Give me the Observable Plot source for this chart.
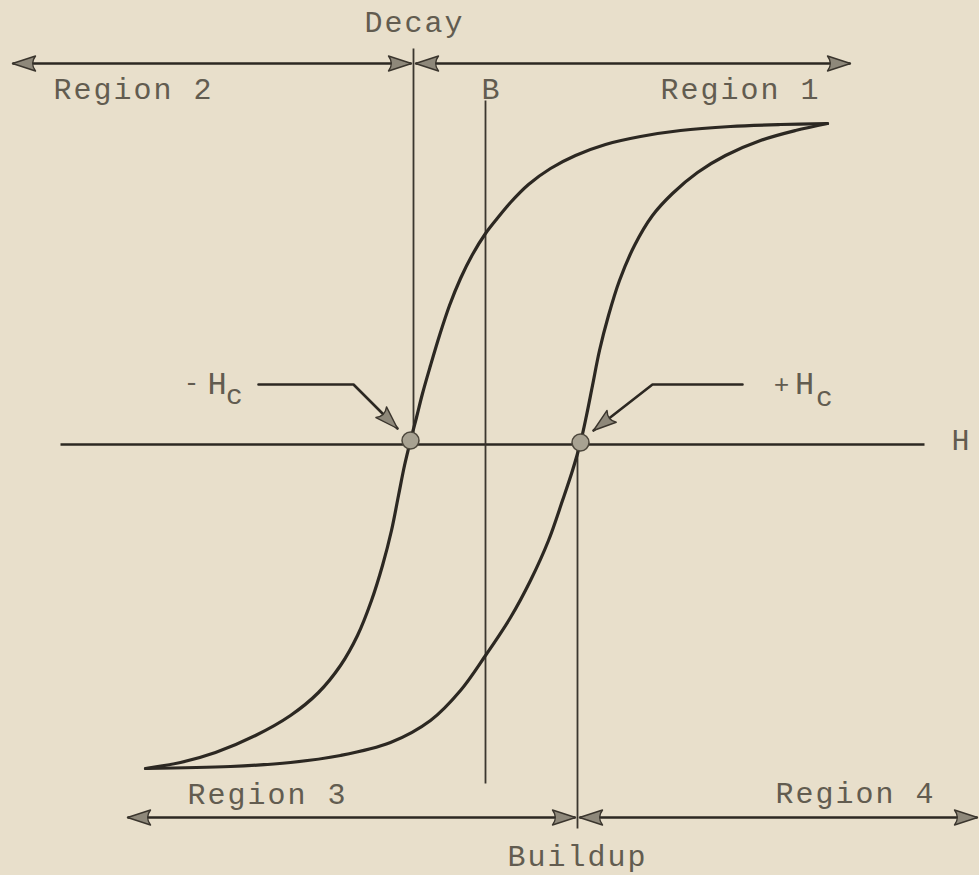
<!DOCTYPE html>
<html>
<head>
<meta charset="utf-8">
<script src="https://cdn.jsdelivr.net/npm/d3@7"></script>
<script src="https://cdn.jsdelivr.net/npm/@observablehq/plot@0.6"></script>
<style>
  html, body { margin: 0; padding: 0; background: #e8dfcb; }
  #chart svg { display: block; }
</style>
</head>
<body>
<div id="chart"></div>
<script>
// ---- Data (schematic units: H along x, B along y) ----
// Descending branch of the hysteresis loop (from +saturation to -saturation)
const descH = [34.2, 29.5, 24.5, 19.5, 15.5, 12.0, 9.0, 6.5, 4.3, 2.5, 1.0, 0.0, -1.3, -2.5, -3.6, -4.6, -5.5, -6.3, -6.9, -7.5, -8.1, -8.7, -9.4, -10.3, -11.4, -12.8, -14.5, -16.7, -19.5, -23.0, -27.0, -30.5, -34.0];
const descB = [32.1, 32.0, 31.8, 31.4, 30.8, 30.0, 28.9, 27.6, 26.0, 24.2, 22.4, 21.1, 19.0, 16.6, 13.9, 10.9, 7.9, 5.1, 2.7, 0.4, -2.1, -5.1, -8.6, -12.1, -15.6, -19.1, -22.1, -24.8, -27.1, -29.1, -30.8, -31.8, -32.4];
// Ascending branch (from -saturation to +saturation)
const ascH = [-34.0, -25.5, -19.5, -14.5, -9.5, -5.5, -2.5, 0.0, 2.5, 4.5, 6.3, 7.7, 8.7, 9.5, 10.1, 10.7, 11.4, 12.3, 13.4, 14.9, 16.7, 18.7, 21.2, 24.0, 27.5, 31.0, 34.2];
const ascB = [-32.4, -32.2, -31.8, -31.1, -29.8, -27.6, -24.6, -21.1, -17.3, -13.6, -9.6, -5.6, -2.6, 0.2, 2.9, 5.9, 9.4, 12.9, 16.4, 19.9, 22.9, 25.1, 27.2, 28.9, 30.4, 31.4, 32.1];

// Coercive points (-Hc, +Hc)
const coerciveH = [-7.5, 9.5];
const coerciveB = [0.4, 0.2];

// H axis
const hAxisFrom = [-42.5];
const hAxisTo = [43.9];

// Vertical lines: B axis, Decay, Buildup
const vertH = [0, -7.2, 9.2];
const vertTop = [34.4, 39.6, -0.3];
const vertBottom = [-33.9, 0.8, -38.4];

// Region span arrows (double headed)
const spanStart = [-47.3, -7.0, -35.8, 9.4];
const spanEnd = [-7.4, 36.5, 9.0, 49.2];
const spanB = [38.1, 38.1, -37.3, -37.3];

// Leader lines to -Hc and +Hc
const leaderMinusH = [-22.7, -13.2, -8.8];
const leaderMinusB = [6.0, 6.0, 1.6];
const leaderPlusH = [25.7, 16.7, 10.8];
const leaderPlusB = [6.0, 6.0, 1.4];

// Labels
const startLabels = ["Region 2", "Region 1", "Region 3", "Region 4"];
const startLabelH = [-43.2, 17.5, -29.8, 29.0];
const startLabelB = [35.5, 35.5, -35.0, -34.9];
const midLabels = ["Decay", "Buildup", "B", "H"];
const midLabelH = [-7.1, 9.2, 0.6, 47.6];
const midLabelB = [42.25, -41.2, 35.55, 0.4];
const signLabels = ["-", "+"];
const signH = [-29.3, 29.7];
const signB = [6.2, 6.0];
const hcH = [-26.75, 32.0];
const hcB = [6.1, 6.1];
const subH = [-25.0, 34.0];
const subB = [4.9, 4.7];

// ---- Build rows ----
const zip = (hs, bs) => hs.map((H, i) => ({H, B: bs[i]}));
const desc = zip(descH, descB);
const asc = zip(ascH, ascB);
const coercive = zip(coerciveH, coerciveB);
const hAxis = hAxisFrom.map((H1, i) => ({H1, H2: hAxisTo[i], B: 0}));
const verts = vertH.map((H, i) => ({H, B1: vertTop[i], B2: vertBottom[i]}));
const spans = spanStart.map((H1, i) => ({H1, H2: spanEnd[i], B: spanB[i]}));
const leaderMinus = zip(leaderMinusH, leaderMinusB);
const leaderPlus = zip(leaderPlusH, leaderPlusB);

const heads = [];
spans.forEach(s => {
  heads.push({H: s.H1, B: s.B, rotate: 270});
  heads.push({H: s.H2, B: s.B, rotate: 90});
});
[leaderMinus, leaderPlus].forEach(l => {
  const a = l[l.length - 2], b = l[l.length - 1];
  const ang = Math.atan2(b.H - a.H, b.B - a.B) * 180 / Math.PI;
  heads.push({H: b.H, B: b.B, rotate: ang});
});

const headShape = {
  draw(ctx, l, r) {
    ctx.moveTo(0, -l);
    ctx.lineTo(-r, 0);
    ctx.quadraticCurveTo(0, -l * 0.25, r, 0);
    ctx.closePath();
  }
};

const ink = "#2c2822";
const textInk = "#625c50";
const font = "Liberation Mono, DejaVu Sans Mono, monospace";

const chart = Plot.plot({
  width: 979,
  height: 875,
  margin: 0,
  x: {domain: [-48.5, 49.4], axis: null},
  y: {domain: [-43.1, 44.4], axis: null},
  style: {background: "transparent"},
  marks: [
    Plot.link(hAxis, {x1: "H1", x2: "H2", y1: "B", y2: "B", stroke: ink, strokeWidth: 2.6}),
    Plot.link(verts, {x1: "H", x2: "H", y1: "B1", y2: "B2", stroke: "#3b362e", strokeWidth: 1.8}),
    Plot.link(spans, {x1: "H1", x2: "H2", y1: "B", y2: "B", stroke: ink, strokeWidth: 2.4}),
    Plot.line(desc, {x: "H", y: "B", curve: "catmull-rom", stroke: ink, strokeWidth: 3.2}),
    Plot.line(asc, {x: "H", y: "B", curve: "catmull-rom", stroke: ink, strokeWidth: 3.2}),
    Plot.line(leaderMinus, {x: "H", y: "B", stroke: ink, strokeWidth: 2.6, strokeLinejoin: "miter"}),
    Plot.line(leaderPlus, {x: "H", y: "B", stroke: ink, strokeWidth: 2.6, strokeLinejoin: "miter"}),
    Plot.vector(heads, {x: "H", y: "B", rotate: "rotate", length: 23, r: 7.5, anchor: "end", shape: headShape,
      fill: "#8e887a", stroke: "#3a352d", strokeWidth: 1.4}),
    Plot.dot(coercive, {x: "H", y: "B", r: 8.5, fill: "#a8a292", stroke: "#4d473c", strokeWidth: 1.5}),
    Plot.text(startLabels.map((t, i) => ({t, H: startLabelH[i], B: startLabelB[i]})),
      {x: "H", y: "B", text: "t", textAnchor: "start", fontSize: 30, fontFamily: font, fill: textInk}),
    Plot.text(midLabels.map((t, i) => ({t, H: midLabelH[i], B: midLabelB[i]})),
      {x: "H", y: "B", text: "t", textAnchor: "middle", fontSize: 30, fontFamily: font, fill: textInk}),
    Plot.text(signLabels.map((t, i) => ({t, H: signH[i], B: signB[i]})),
      {x: "H", y: "B", text: "t", textAnchor: "middle", fontSize: 26, fontFamily: font, fill: textInk}),
    Plot.text(hcH.map((H, i) => ({t: "H", H, B: hcB[i]})),
      {x: "H", y: "B", text: "t", textAnchor: "middle", fontSize: 32, fontFamily: font, fill: textInk}),
    Plot.text(subH.map((H, i) => ({t: "c", H, B: subB[i]})),
      {x: "H", y: "B", text: "t", textAnchor: "middle", fontSize: 28, fontFamily: font, fill: textInk})
  ]
});

d3.select(chart).selectAll("text").attr("letter-spacing", "2px");
document.getElementById("chart").appendChild(chart);
</script>
</body>
</html>
